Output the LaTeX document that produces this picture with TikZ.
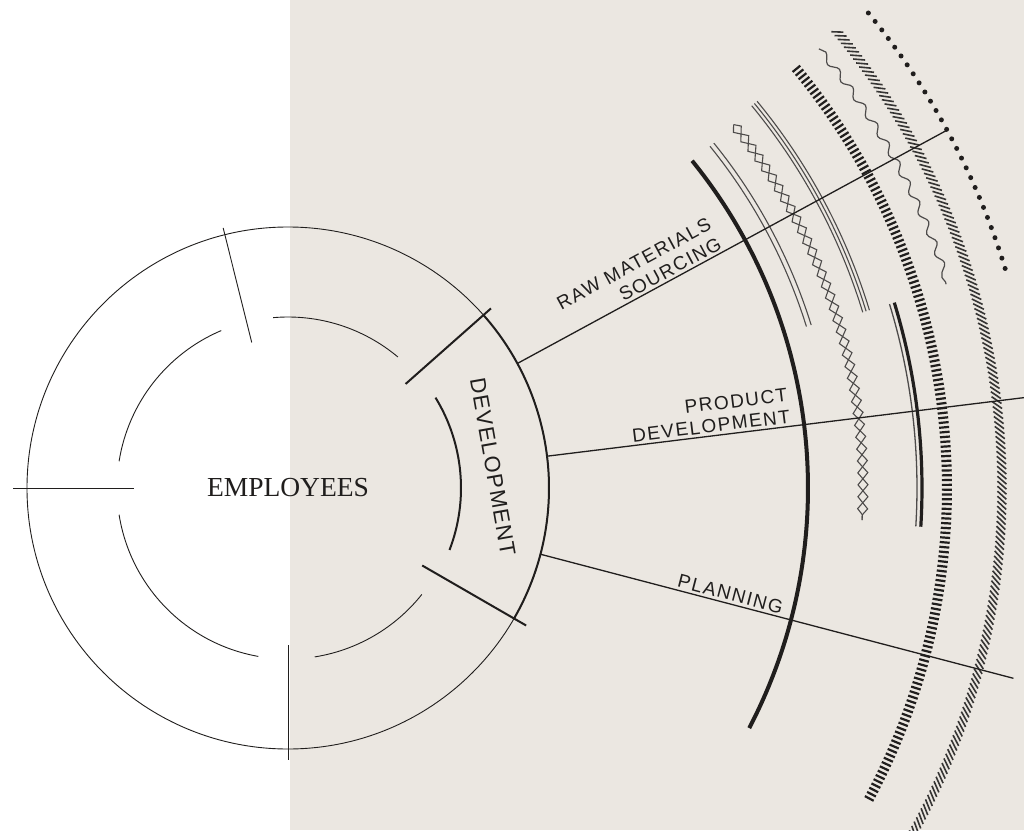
\documentclass[tikz,border=0pt]{standalone}
\usepackage{fontspec}
\setmainfont{Liberation Serif}
\newfontfamily\labelfont[LetterSpace=8]{Liberation Sans}
\newfontfamily\devfont[LetterSpace=6]{Liberation Sans}
\usetikzlibrary{decorations.pathmorphing,decorations.markings}
\definecolor{ink}{RGB}{32,30,29}
\definecolor{paper}{RGB}{235,231,225}
\tikzset{
  hair/.style={draw=ink,line width=0.9pt},
  bold/.style={draw=ink,line width=2pt},
  ray/.style={draw=ink,line width=1.3pt},
  lbl/.style={font=\labelfont\fontsize{19}{22}\selectfont,text=ink,align=right,inner sep=3pt},
  bar/.style={draw=ink,line width=4pt},
  fine/.style={draw=ink!80,line width=1.1pt},
  zig/.style={draw=ink!80,line width=1.1pt,decorate,decoration={zigzag,segment length=24pt,amplitude=5pt}},
  zag/.style={zig,decoration={mirror}},
  rail/.style={draw=ink,line width=10pt,dash pattern=on 2.2pt off 2.6pt},
  wave/.style={draw=ink!80,line width=1.2pt,decorate,decoration={snake,segment length=22pt,amplitude=3.3pt}},
  twist/.style={decorate,decoration={markings,mark=between positions 0 and 1 step 5pt with
    {\draw[ink!90,line width=1.6pt] (-4pt,-4.5pt) -- (4pt,4.5pt);}}},
  beads/.style={draw=ink,line width=5pt,line cap=round,dash pattern=on 0pt off 10.8pt},
}

\begin{document}
\begin{tikzpicture}[x=1pt,y=1pt]
  \path[use as bounding box] (-288,-342) rectangle (736,488);
  \clip (-288,-342) rectangle (736,488);
  \fill[white] (-288,-342) rectangle (736,488);
  \fill[paper] (2,-342) rectangle (736,488);
  \coordinate (O) at (0,0);

  % employees ring
  \draw[hair] (O) circle[radius=261pt];
  \foreach \s/\e in {50/95,113/171,189/260,279/321.5}
    \draw[hair] (\s:171) arc[start angle=\s,end angle=\e,radius=171pt];
  \foreach \a/\r/\R in {104/150/268,180/154/275,270/157/272}
    \draw[hair] (\a:\r) -- (\a:\R);
  \node[font=\fontsize{27.5}{30}\selectfont,text=ink] (emp) at (O) {EMPLOYEES};

  % development sector
  \draw[bold] (41.5:157) -- (41.5:271);
  \draw[bold] (-30:155) -- (-30:275);
  \draw[bold] (-30:261) arc[start angle=-30,end angle=41.5,radius=261pt];
  \draw[bold] (-21:173) arc[start angle=-21,end angle=31.5,radius=173pt];
  \node[font=\devfont\fontsize{22}{24}\selectfont,text=ink,rotate=-80] (dev) at (5.9:206) {DEVELOPMENT};

  % outer rings
  \draw[bar] (39:520) arc[start angle=39,end angle=-27.5,radius=520pt];
  \foreach \r in {543,548}
    \draw[fine] (39:\r) arc[start angle=39,end angle=17.3,radius=\r pt];
  \draw[zig] (39.2:575) arc[start angle=39.2,end angle=-3.2,radius=575pt];
  \draw[zag] (39.2:575) arc[start angle=39.2,end angle=-3.2,radius=575pt];
  \foreach \r in {601,604.5,608}
    \draw[fine] (39.5:\r) arc[start angle=39.5,end angle=17,radius=\r pt];
  \draw[fine,line width=1.3pt] (17:629) arc[start angle=17,end angle=-3.5,radius=629pt];
  \draw[ink,line width=3.2pt] (17:634) arc[start angle=17,end angle=-3.5,radius=634pt];
  \draw[rail] (39.6:659) arc[start angle=39.6,end angle=-28.4,radius=659pt];
  \draw[wave] (39.6:689) arc[start angle=39.6,end angle=17.2,radius=689pt];
  \path[twist] (39.7:714) arc[start angle=39.7,end angle=-29.5,radius=714pt];
  \draw[beads] (39.3:750) arc[start angle=39.3,end angle=16.9,radius=750pt];

  % rays
  \foreach \a/\n in {28.5/raw,7/prod,-14.7/plan}{
    \coordinate (\n-in) at (\a:261);
    \coordinate (\n-out) at (\a:750);
    \draw[ray] (\n-in) -- (\n-out);
  }
  \node[lbl,rotate=28.5,anchor=south east] (raw) at (28.5:500) {RAW MATERIALS\\SOURCING};
  \node[lbl,rotate=7,anchor=south east] (prod) at (7:510) {PRODUCT\\DEVELOPMENT};
  \node[lbl,rotate=-14.7,anchor=south east] (plan) at (-14.7:512) {PLANNING};
\end{tikzpicture}
\end{document}
